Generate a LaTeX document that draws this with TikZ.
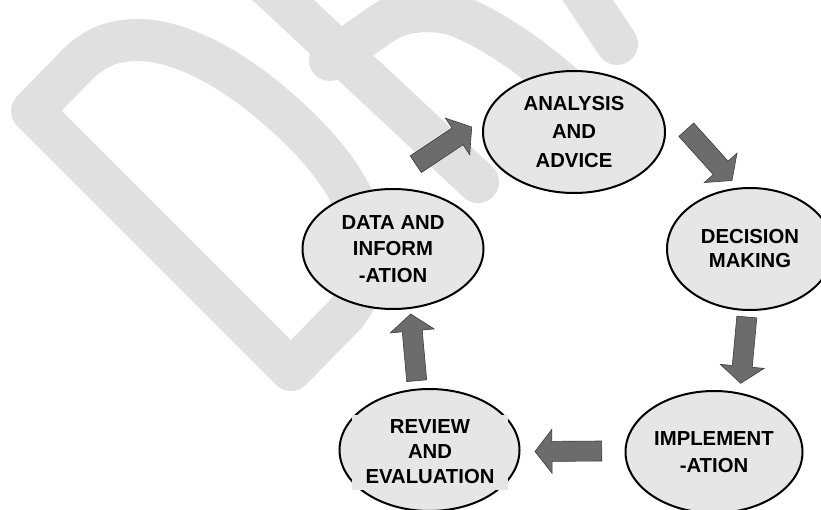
\documentclass[tikz,border=0pt]{standalone}
\usepackage{fontspec}
\setmainfont{Liberation Sans}
\usetikzlibrary{calc,shapes.geometric}
\definecolor{wmgray}{RGB}{224,224,224}
\definecolor{ellfill}{RGB}{230,230,230}
\definecolor{arrfill}{RGB}{108,108,108}
\definecolor{arrline}{RGB}{60,60,60}
\tikzset{
  wm/.style={draw=wmgray, line width=42pt, line cap=round, line join=round},
  stage/.style={ellipse, draw=black, line width=2pt, fill=ellfill, inner sep=0pt,
    align=center, font=\bfseries\fontsize{20.3}{#1}\selectfont},
  stage/.default=26.7,
  arrowstyle/.style={fill=arrfill, draw=arrline, line width=0.6pt, line join=miter},
}
\newcommand\bigArrow[2]{%
  \coordinate (hb) at ($(#2)!17pt!(#1)$);
  \filldraw[arrowstyle] ($(#1)!10pt!-90:(#2)$) -- ($(hb)!10pt!90:(#1)$)
    -- ($(hb)!22pt!90:(#1)$) -- (#2) -- ($(hb)!22pt!-90:(#1)$)
    -- ($(hb)!10pt!-90:(#1)$) -- ($(#1)!10pt!90:(#2)$) -- cycle;}
\begin{document}
\begin{tikzpicture}[x=1pt,y=-1pt]
\useasboundingbox (0,0) rectangle (821,510);
\fill[white] (0,0) rectangle (821,510);
% watermark
\begin{scope}
\clip (0,0) rectangle (821,510);
\draw[wm] (291,370) -- (32,111) -- (72,70)
  .. controls (95,45) and (115,40) .. (140,40)
  .. controls (200,42) and (270,95) .. (318,148)
  .. controls (368,205) and (385,265) .. (345,315) -- cycle;
\draw[wm] (265,-17) -- (478,182);
\draw[wm] (330,60) -- (380,25) .. controls (400,10) and (430,8) .. (455,15)
  .. controls (490,28) and (530,55) .. (575,95);
\draw[wm] (573,-22) -- (617,44);
\end{scope}
% stages
\node[stage=28.3, minimum width=182pt, minimum height=122pt] (analysis) at (574,132)
  {ANALYSIS\\AND\\ADVICE};
\node[stage=26.7, minimum width=181pt, minimum height=120pt] (data) at (393,249)
  {DATA AND\\INFORM\\-ATION};
\node[stage=24, minimum width=166pt, minimum height=122pt] (decision) at (750,249)
  {DECISION\\MAKING};
\node[stage=26.7, minimum width=177pt, minimum height=122pt] (implement) at (714,452)
  {IMPLEMENT\\-ATION};
\node[stage, minimum width=180pt, minimum height=122pt] (review) at (429.5,450) {};
\node[fill=ellfill, minimum width=156pt, minimum height=75pt, inner sep=0pt, align=center,
  font=\bfseries\fontsize{20.3}{25}\selectfont] (reviewtext) at (430,452)
  {REVIEW\\AND\\EVALUATION};
% arrows
\coordinate (a1t) at (415.8,164.2); \coordinate (a1h) at (471.7,127);
\coordinate (a2t) at (686.3,129.7); \coordinate (a2h) at (732,180.5);
\coordinate (a3t) at (746.8,317);   \coordinate (a3h) at (740.7,383.3);
\coordinate (a4t) at (601.7,451);   \coordinate (a4h) at (535,451.5);
\coordinate (a5t) at (416.7,380.7); \coordinate (a5h) at (410.7,314);
\bigArrow{a1t}{a1h}
\bigArrow{a2t}{a2h}
\bigArrow{a3t}{a3h}
\bigArrow{a4t}{a4h}
\bigArrow{a5t}{a5h}
\end{tikzpicture}
\end{document}
